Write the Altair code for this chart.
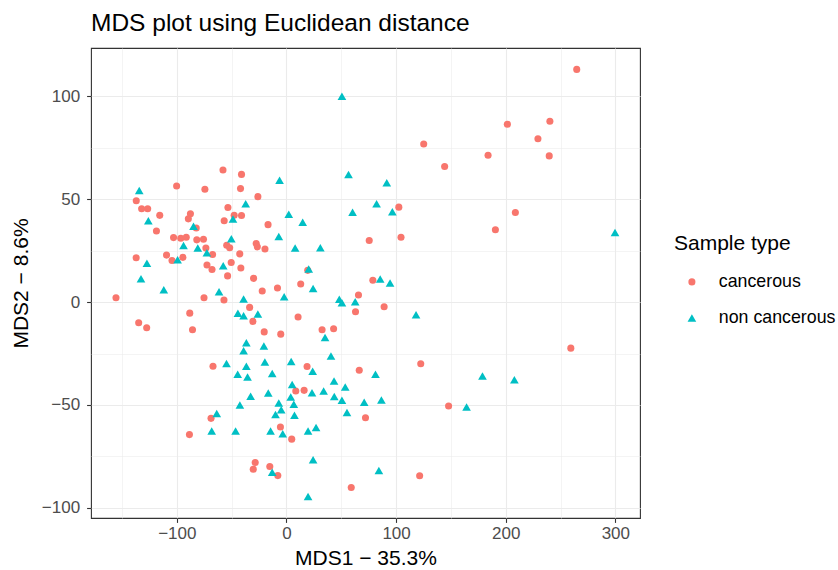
import altair as alt
import pandas as pd

# --- data ---
canc_x = [264.8, 201.5, 240.3, 229.4, 239.7, 208.8, 190.6, 183.9, 144.3, 125.2,
          102.5, 104.5, 75.5, 78.8, 65.7, 89.1, 63.0, 259.4, 122.5, 66.4,
          147.9, 72.1, 121.5, 59.1, 32.5, 43.0, 10.6, 18.8, 8.5, 16.1,
          4.8, -5.5, -28.5, -30.3, -15.2, -7.9, -20.3, -5.2, -30.6, -33.6,
          -30.0, -8.2, 13.0, -22.1, 19.4, -57.0, -75.2, -88.2, -134.8, -127.5,
          -85.7, -67.0, -68.8, -88.5, -155.5, -57.9, -41.0, -100.2, -74.4, -41.9,
          -137.0, -132.1, -126.6, -26.1, -53.4, -115.6, -87.6, -89.5, -47.7, -41.0,
          -56.8, -16.8, -118.6, -82.3, -103.0, -96.4, -91.4, -81.8, -75.7, -27.6,
          -26.6, -19.6, -73.5, -67.4, -54.5, -51.8, -42.6, -137.1, -109.4, -104.4,
          -94.5, -72.5, -67.9, -50.4, -41.6, -53.7]
canc_y = [113.0, 86.4, 87.8, 79.3, 71.0, 43.5, 35.1, 71.3, 65.8, 76.8,
          46.1, 31.5, 29.9, 10.6, 3.4, -2.3, -4.7, -22.4, -30.0, -33.1,
          -50.5, -56.2, -84.4, -90.1, -13.5, -13.0, -7.3, -31.3, -43.2, -42.9,
          -66.6, -60.7, -77.9, -81.2, -79.9, -84.3, -14.5, -15.6, -9.4, -2.6,
          11.5, 6.8, 8.8, 5.4, 15.4, 1.0, 2.1, -5.4, -10.1, -12.5,
          -13.5, -31.2, -56.5, -64.4, 2.1, 64.1, 62.0, 56.4, 54.8, 55.1,
          49.2, 45.3, 45.3, 51.2, 45.9, 42.1, 42.9, 40.4, 42.2, 42.0,
          39.5, 37.6, 34.5, 36.0, 31.3, 31.0, 31.5, 30.2, 30.5, 28.4,
          26.8, 25.8, 26.2, 23.1, 27.6, 26.4, 23.4, 21.5, 22.8, 20.2,
          21.7, 18.0, 15.8, 19.2, 16.5, 12.7]

non_x = [50.6, 56.6, -6.3, 91.5, 82.2, 60.3, 96.6, 2.1, 14.8, -7.0,
         7.9, 30.9, 20.3, 24.3, -2.1, 48.2, 50.6, 62.7, 85.5, 94.5,
         299.7, 207.9, 118.2, 81.2, 178.8, 70.9, 86.6, 164.3, 84.3, -39.1,
         -44.3, -39.1, -26.1, 35.2, -36.6, -39.1, -20.6, 40.6, -54.7, -36.6,
         -19.7, 4.3, 23.9, -44.5, -35.5, -13.0, 43.4, 53.6, 5.2, 23.3,
         33.9, 43.6, 50.6, -32.7, -16.6, -42.5, -7.0, 3.9, 6.7, -4.8,
         -10.0, 7.3, 55.2, -46.4, -14.5, -3.4, 19.7, 27.0, 24.3, -13.0,
         19.7, -111.9, -61.5, -63.6, -68.2, -134.3, -126.0, -84.8, -48.8, -37.2,
         -50.3, -93.9, -80.9, -72.6, -99.3, -127.3, -57.7, -132.7]
non_y = [100.0, 62.0, 59.1, 58.0, 47.7, 43.6, 43.9, 42.7, 38.7, 31.8,
         26.2, 26.4, 16.0, 6.6, 2.6, 1.3, -0.3, 0.1, 11.2, 9.2,
         33.8, -37.8, -6.2, -35.1, -35.9, -48.7, -47.6, -51.0, -81.8, 1.5,
         -5.5, -6.7, -5.8, -17.2, -19.8, -23.7, -21.4, -26.2, -29.9, -31.2,
         -29.1, -28.9, -33.6, -35.1, -36.4, -34.7, -38.3, -41.3, -40.1, -44.0,
         -43.2, -45.9, -47.7, -45.8, -44.2, -50.0, -49.0, -46.1, -49.7, -52.3,
         -54.6, -55.0, -53.6, -62.7, -62.7, -64.0, -62.7, -60.9, -76.6, -82.7,
         -94.5, 6.0, 5.0, -54.2, -62.7, 54.2, 39.5, 36.8, 40.3, 47.7,
         30.8, 27.5, 26.3, 23.9, 20.5, 18.8, 17.6, 11.3]

groups = ["cancerous", "non cancerous"]
group_colors = ["#F8766D", "#00BFC4"]
group_shapes = ["circle", "triangle-up"]

x_grid_values = [-150, -100, -50, 0, 50, 100, 150, 200, 250, 300]
y_grid_values = [-100, -75, -50, -25, 0, 25, 50, 75, 100]
x_domain = [-178.3, 322.5]
y_domain = [-104.9, 123.4]

df = pd.DataFrame({
    "MDS1": canc_x + non_x,
    "MDS2": canc_y + non_y,
    "type": [groups[0]] * len(canc_x) + [groups[1]] * len(non_x),
})

FONT = "Liberation Sans"
x_major = "datum.value % 100 === 0"
y_major = "datum.value % 50 === 0"


def axis(major_test, values, title, **kw):
    return alt.Axis(
        values=values,
        title=title,
        labelExpr=f"{major_test} ? datum.label : ''",
        labelOverlap=False,
        labelFont=FONT,
        labelFontSize=17,
        labelColor="#4D4D4D",
        titleFont=FONT,
        titleFontSize=21,
        titleFontWeight="normal",
        titleColor="#000000",
        domain=False,
        tickSize=4.4,
        tickColor="#333333",
        tickWidth=1.1,
        tickOpacity={"condition": {"test": major_test, "value": 1}, "value": 0},
        grid=True,
        gridColor="#EBEBEB",
        gridWidth={"condition": {"test": major_test, "value": 1.1}, "value": 0.55},
        **kw,
    )


legend = alt.Legend(
    title="Sample type",
    orient="none",
    legendX=583,
    legendY=185,
    titleFont=FONT,
    titleFontSize=21,
    titleFontWeight="normal",
    titleColor="#000000",
    titlePadding=19,
    labelFont=FONT,
    labelFontSize=17.8,
    labelColor="#000000",
    labelOffset=18,
    rowPadding=17,
    symbolOffset=9,
    symbolStrokeWidth=0,
    symbolSize=60,
    symbolOpacity=1,
)

chart = (
    alt.Chart(df)
    .mark_point(filled=True, opacity=1, strokeWidth=0)
    .encode(
        x=alt.X("MDS1:Q", scale=alt.Scale(domain=x_domain, nice=False, zero=False),
                axis=axis(x_major, x_grid_values, "MDS1 − 35.3%", labelPadding=3, titlePadding=6)),
        y=alt.Y("MDS2:Q", scale=alt.Scale(domain=y_domain, nice=False, zero=False),
                axis=axis(y_major, y_grid_values, "MDS2 − 8.6%", labelPadding=7, titlePadding=10)),
        color=alt.Color("type:N", scale=alt.Scale(domain=groups, range=group_colors), legend=legend),
        shape=alt.Shape("type:N", scale=alt.Scale(domain=groups, range=group_shapes), legend=legend),
        size=alt.Size("type:N", scale=alt.Scale(domain=groups, range=[50, 75]), legend=None),
    )
    .properties(
        width=549,
        height=470,
        title=alt.TitleParams(
            "MDS plot using Euclidean distance",
            anchor="start",
            frame="group",
            font=FONT,
            fontSize=24.5,
            fontWeight="normal",
            color="#000000",
            offset=12,
        ),
        autosize=alt.AutoSizeParams(type="none"),
        padding={"left": 91, "top": 48, "right": 198, "bottom": 52},
        background="white",
    )
    .configure_view(stroke="#333333", strokeWidth=1.1)
)

chart.save("out.html", embed_options={"renderer": "svg", "actions": False})
